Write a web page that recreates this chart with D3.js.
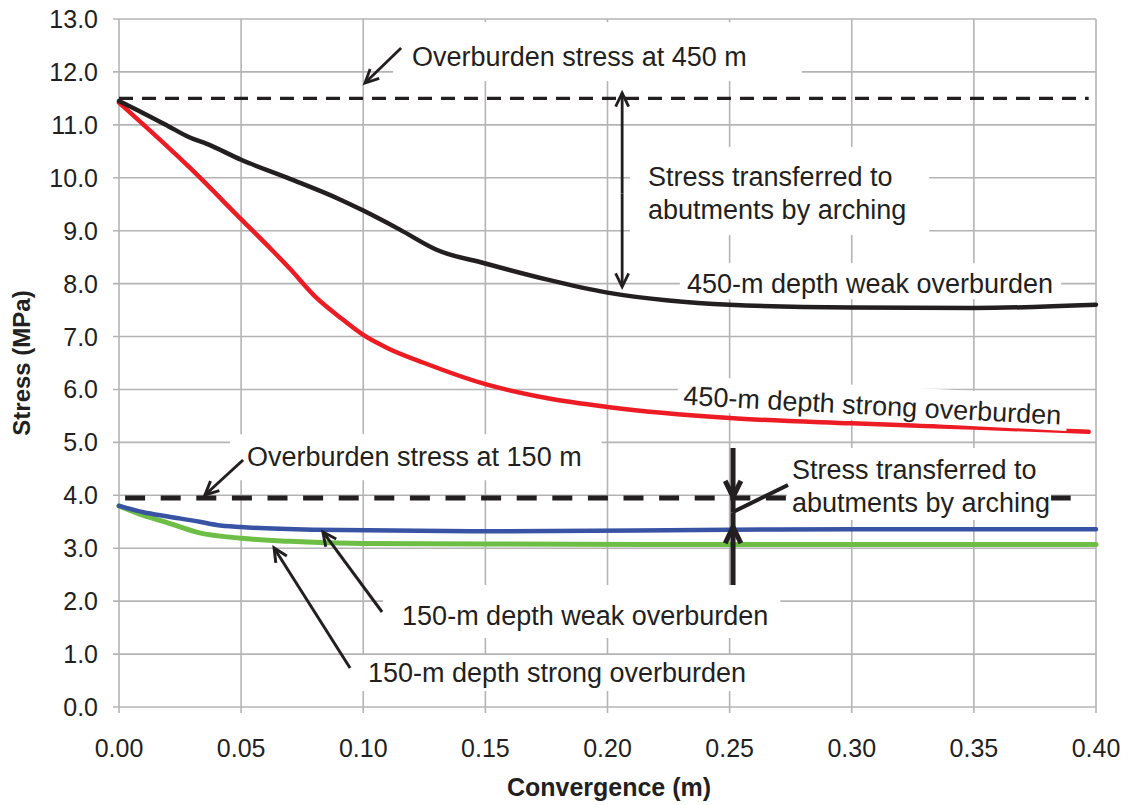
<!DOCTYPE html>
<html><head><meta charset="utf-8">
<script src="https://cdn.jsdelivr.net/npm/d3@7"></script>
<style>
html,body{margin:0;padding:0;background:#fff;}
svg{display:block;font-family:"Liberation Sans",Arial,sans-serif;}
</style></head>
<body><svg id="c" width="1128" height="805"></svg>
<script>
// ---- data ----
const xTicks = [0,0.05,0.10,0.15,0.20,0.25,0.30,0.35,0.40];
const yTicks = [0,1,2,3,4,5,6,7,8,9,10,11,12,13];

const convWeak450   = [0,0.01,0.02,0.029,0.036,0.05,0.07,0.09,0.1,0.115,0.13,0.15,0.175,0.2,0.225,0.25,0.3,0.35,0.4];
const stressWeak450 = [11.45,11.22,10.98,10.76,10.64,10.34,9.98,9.6,9.38,9.02,8.64,8.38,8.08,7.83,7.68,7.6,7.55,7.54,7.6];

const convStrong450   = [0,0.029,0.051,0.0625,0.07,0.08,0.09,0.1,0.11,0.125,0.15,0.175,0.2,0.25,0.3,0.35,0.397];
const stressStrong450 = [11.42,10.19,9.17,8.64,8.28,7.77,7.38,7.03,6.78,6.5,6.1,5.84,5.67,5.46,5.36,5.28,5.2];

const convWeak150   = [0,0.01,0.02,0.033,0.04,0.05,0.08,0.15,0.25,0.3,0.4];
const stressWeak150 = [3.8,3.68,3.6,3.5,3.44,3.4,3.35,3.32,3.35,3.36,3.36];

const convStrong150   = [0,0.01,0.02,0.033,0.05,0.07,0.1,0.15,0.25,0.4];
const stressStrong150 = [3.8,3.62,3.48,3.29,3.19,3.13,3.09,3.08,3.07,3.07];

const overburdenStress = [11.5, 3.95];          // 450 m, 150 m
const overburdenExtent = [[0,0.397],[0.0025,0.392]];

// ---- layout ----
const svg = d3.select("#c");
const x = d3.scaleLinear().domain([0,0.4]).range([119,1096]);
const y = d3.scaleLinear().domain([0,13]).range([707,19]);
const gridColor = "#b4b4b4";

// grid
svg.append("g").selectAll("line").data(yTicks).join("line")
  .attr("x1", 113).attr("x2", x(0.4)).attr("y1", d=>y(d)).attr("y2", d=>y(d))
  .attr("stroke", gridColor).attr("stroke-width", 1.6);
svg.append("g").selectAll("line").data(xTicks).join("line")
  .attr("x1", d=>x(d)).attr("x2", d=>x(d)).attr("y1", y(13)).attr("y2", y(0)+6)
  .attr("stroke", gridColor).attr("stroke-width", 1.6);

// tick labels
svg.append("g").selectAll("text").data(yTicks).join("text")
  .attr("x", 98).attr("y", d=>y(d)+9).attr("text-anchor","end")
  .attr("font-size", 25).attr("fill","#231f20").text(d=>d.toFixed(1));
svg.append("g").selectAll("text").data(xTicks).join("text")
  .attr("x", d=>x(d)).attr("y", 757).attr("text-anchor","middle")
  .attr("font-size", 25).attr("fill","#231f20").text(d=>d.toFixed(2));

// axis titles
svg.append("text").attr("x", 609).attr("y", 796).attr("text-anchor","middle")
  .attr("font-size", 25).attr("font-weight","bold").attr("fill","#231f20").text("Convergence (m)");
svg.append("text").attr("transform","translate(30,363) rotate(-90)").attr("text-anchor","middle")
  .attr("font-size", 24).attr("font-weight","bold").attr("fill","#231f20").text("Stress (MPa)");

// series
const line = d3.line().x(d=>x(d[0])).y(d=>y(d[1])).curve(d3.curveMonotoneX);
const series = [
  {cx: convStrong150, cy: stressStrong150, color:"#6cbe45", w:5},
  {cx: convWeak150,   cy: stressWeak150,   color:"#3953a4", w:4.5},
  {cx: convStrong450, cy: stressStrong450, color:"#ed1c24", w:4.5},
  {cx: convWeak450,   cy: stressWeak450,   color:"#231f20", w:4.5}
];
series.forEach(s=>{
  svg.append("path").datum(d3.zip(s.cx, s.cy)).attr("d", line)
    .attr("fill","none").attr("stroke", s.color).attr("stroke-width", s.w)
    .attr("stroke-linecap","round").attr("stroke-linejoin","round");
});

// overburden dashed lines
const dashStyle = [{w:3.2, dash:"14,9"},{w:5, dash:"20,15.6"}];
overburdenStress.forEach((v,i)=>{
  svg.append("line").attr("x1", x(overburdenExtent[i][0])).attr("x2", x(overburdenExtent[i][1]))
    .attr("y1", y(v)).attr("y2", y(v)).attr("stroke","#231f20")
    .attr("stroke-width", dashStyle[i].w).attr("stroke-dasharray", dashStyle[i].dash);
});

// ---- annotations (data units) ----
const labels = [
  {lines:["Overburden stress at 450 m"], x:0.120, y:12.11, pad:[19,20,55,9]},
  {lines:["Stress transferred to","abutments by arching"], x:0.2166, y:9.845, pad:[18,15,23,10]},
  {lines:["450-m depth weak overburden"], x:0.2325, y:7.82, pad:[7,6,8,0]},
  {lines:["450-m depth strong overburden"], x:0.2309, y:5.71, pad:[6,5,6,0], rot:3},
  {lines:["Overburden stress at 150 m"], x:0.0524, y:4.55, pad:[17,8,20,8]},
  {lines:["Stress transferred to","abutments by arching"], x:0.2755, y:4.308, pad:[5,7,1,2]},
  {lines:["150-m depth weak overburden"], x:0.1159, y:1.55, pad:[19,16,12,7]},
  {lines:["150-m depth strong overburden"], x:0.1019, y:0.472, pad:[12,3,15,3]}
];
const lineGap = 33, fs = 27;
labels.forEach(l=>{
  const g = svg.append("g")
    .attr("transform", `translate(${x(l.x)},${y(l.y)}) rotate(${l.rot||0})`);
  const rect = g.append("rect").attr("fill","#fff");
  const t = g.append("text").attr("font-size", fs).attr("fill","#231f20");
  l.lines.forEach((s,i)=> t.append("tspan").attr("x",0).attr("y", i*lineGap).text(s));
  const bb = t.node().getBBox();
  rect.attr("x", bb.x - l.pad[0]).attr("y", bb.y - l.pad[1])
      .attr("width", bb.width + l.pad[0] + l.pad[2]).attr("height", bb.height + l.pad[1] + l.pad[3]);
});

// arrows
const arrows = [
  {from:[0.1155,12.45], to:[0.1007,11.79], w:2.8},
  {from:[0.206,9.7],   to:[0.206,11.60], w:2.8},
  {from:[0.206,9.7],   to:[0.206,7.94],  w:2.8},
  {from:[0.0508,4.667], to:[0.0352,4.006], w:3},
  {from:[0.2514,4.894], to:[0.2514,3.968], w:5, tail:[0.2514,3.68]},
  {from:[0.2514,2.305], to:[0.2514,3.401], w:5, tail:[0.2514,3.68]},
  {from:[0.1077,1.795], to:[0.0835,3.307], w:3},
  {from:[0.0946,0.737], to:[0.0635,3.0045], w:3}
];
arrows.forEach(a=>{
  const x1 = x(a.from[0]), y1 = y(a.from[1]), x2 = x(a.to[0]), y2 = y(a.to[1]);
  const end = a.tail ? [x(a.tail[0]), y(a.tail[1])] : [x2,y2];
  svg.append("line").attr("x1",x1).attr("y1",y1).attr("x2",end[0]).attr("y2",end[1])
    .attr("stroke","#231f20").attr("stroke-width",a.w).attr("stroke-linecap","butt");
  const ang = Math.atan2(y2-y1, x2-x1), L = a.w>4 ? 18 : 15, sp = 0.45;
  const p1 = [x2 - L*Math.cos(ang-sp), y2 - L*Math.sin(ang-sp)];
  const p2 = [x2 - L*Math.cos(ang+sp), y2 - L*Math.sin(ang+sp)];
  svg.append("path").attr("d", `M${p1}L${x2},${y2}L${p2}`)
    .attr("fill","none").attr("stroke","#231f20").attr("stroke-width",a.w)
    .attr("stroke-linejoin","miter");
});
// connector from lower double arrow to its label
svg.append("line").attr("x1",x(0.2514)).attr("y1",y(3.685)).attr("x2",x(0.2739)).attr("y2",y(4.195))
  .attr("stroke","#231f20").attr("stroke-width",4);
</script></body></html>
